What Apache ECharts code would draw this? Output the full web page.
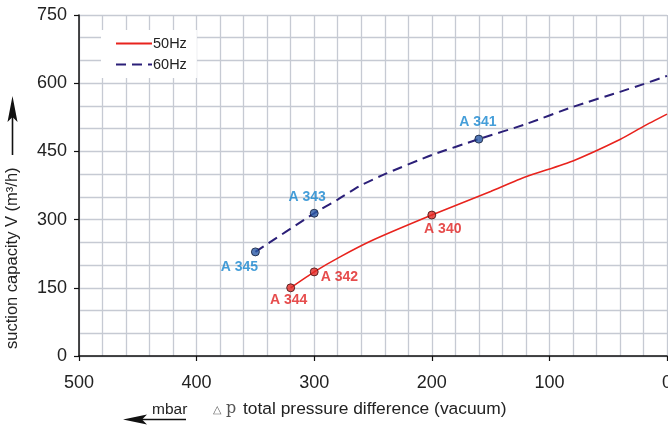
<!DOCTYPE html>
<html><head><meta charset="utf-8">
<script src="https://cdn.jsdelivr.net/npm/echarts@6/dist/echarts.min.js"></script>
<style>html,body{margin:0;padding:0;background:#fff}#c{width:668px;height:428px}</style>
</head><body><div id="c"></div>
<script>
// Data
const series50Name = '50Hz';
const series60Name = '60Hz';
const curve50 = [[320,150],[300,185],[278,218],[250,255],[200,310],[150,362],[120,394],[80,429],[40,476],[20,505],[0,532]];
const curve60 = [[350,229],[300,314],[280,344],[262,373],[240,400],[200,442],[160,477],[120,510],[80,548],[40,581],[20,598],[0,616]];
const points50 = [[320,150],[300,185],[200,310]];
const labels50 = ['A 344','A 342','A 340'];
const points60 = [[350,229],[300,314],[160,477]];
const labels60 = ['A 345','A 343','A 341'];
const xTicks = [0,100,200,300,400,500];
const yTicks = [0,150,300,450,600,750];

const red = '#e8231d', navy = '#2b1f78', redLbl = '#e02020', blueLbl = '#1786d0';
const font = 'Liberation Sans, Arial, sans-serif';
const lblPos50 = [['bottom',[-2,-4]],['right',[-3,5]],['bottom',[11,-2]]];
const lblPos60 = [['bottom',[-16,-1]],['top',[-7,0]],['top',[-1,0]]];

const chart = echarts.init(document.getElementById('c'), null, {renderer:'canvas'});
chart.setOption({
  animation:false,
  grid:{left:79,right:1,top:15,bottom:72,containLabel:false,outerBoundsMode:'none'},
  legend:{
    data:[series50Name, series60Name], orient:'vertical', left:101, top:30,
    backgroundColor:'#fff', padding:[6,10,6,14], itemGap:6, itemWidth:36, itemHeight:12,
    itemStyle:{color:'rgba(0,0,0,0)',borderColor:'rgba(0,0,0,0)',borderWidth:0},
    textStyle:{fontFamily:font,fontSize:14.5,color:'#222',padding:[0,0,0,-4]}
  },
  xAxis:{
    type:'value', inverse:true, min:0, max:500, interval:100,
    axisLine:{show:true,onZero:false,lineStyle:{color:'#111',width:1.5}},
    axisTick:{show:true,length:5,inside:false,lineStyle:{color:'#111',width:1.2}},
    axisLabel:{fontFamily:font,fontSize:18,color:'#222',margin:18,
      formatter:v=>xTicks.includes(v)?String(v):''},
    splitLine:{show:true,lineStyle:{color:'#c6cad3',width:1.3}},
    minorTick:{show:false,splitNumber:5},
    minorSplitLine:{show:true,lineStyle:{color:'#c6cad3',width:1.3}}
  },
  yAxis:{
    type:'value', min:0, max:750, interval:150,
    axisLine:{show:true,onZero:false,lineStyle:{color:'#111',width:1.5}},
    axisTick:{show:true,length:5,lineStyle:{color:'#111',width:1.2}},
    axisLabel:{fontFamily:font,fontSize:18,color:'#222',margin:12,
      formatter:v=>yTicks.includes(v)?String(v):''},
    splitLine:{show:true,lineStyle:{color:'#c6cad3',width:1.3}},
    minorTick:{show:false,splitNumber:3},
    minorSplitLine:{show:true,lineStyle:{color:'#c6cad3',width:1.3}}
  },
  series:[
    {name:series50Name,type:'line',data:curve50,symbol:'none',smooth:0.2,
      lineStyle:{color:red,width:1.6},itemStyle:{color:red},z:3},
    {name:series60Name,type:'line',data:curve60,symbol:'none',smooth:0.2,
      lineStyle:{color:navy,width:2,type:[10,6]},itemStyle:{color:navy},z:3},
    {name:'p50',type:'scatter',symbolSize:8,z:5,
      itemStyle:{color:'#e52b27',borderColor:'#3a1010',borderWidth:1},
      data:points50.map((p,i)=>({value:p,label:{show:true,formatter:labels50[i],position:lblPos50[i][0],offset:lblPos50[i][1],
        color:redLbl,fontFamily:font,fontSize:14,fontWeight:'bold'}}))},
    {name:'p60',type:'scatter',symbolSize:8,z:5,
      itemStyle:{color:'#2b5aa6',borderColor:'#101a35',borderWidth:1},
      data:points60.map((p,i)=>({value:p,label:{show:true,formatter:labels60[i],position:lblPos60[i][0],offset:lblPos60[i][1],
        color:blueLbl,fontFamily:font,fontSize:14,fontWeight:'bold'}}))}
  ],
  graphic:[
    {type:'text',x:21,y:349,rotation:Math.PI/2,
      style:{text:'suction capacity V (m³/h)',font:'16.5px '+font,fill:'#222',textAlign:'left',textVerticalAlign:'bottom'}},
    {type:'line',shape:{x1:12.5,y1:155,x2:12.5,y2:115},style:{stroke:'#111',lineWidth:1.6}},
    {type:'polygon',shape:{points:[[12.5,96],[7.5,122],[12.5,117],[17.5,122]]},style:{fill:'#111'}},
    {type:'text',x:152,y:402,style:{text:'mbar',font:'15.5px '+font,fill:'#222'}},
    {type:'line',shape:{x1:135,y1:419.5,x2:186,y2:419.5},style:{stroke:'#111',lineWidth:1.3}},
    {type:'polygon',shape:{points:[[123,419.5],[147,414.5],[142,419.5],[147,424.5]]},style:{fill:'#111'}},
    {type:'text',x:213,y:404,style:{text:'△',font:'11px '+font,fill:'#666'}},
    {type:'text',x:226,y:401,style:{text:'p',font:'16px "DejaVu Serif", serif',fill:'#555'}},
    {type:'text',x:243,y:401,style:{text:'total pressure difference (vacuum)',font:'17.4px '+font,fill:'#222'}}
  ]
});
</script></body></html>
